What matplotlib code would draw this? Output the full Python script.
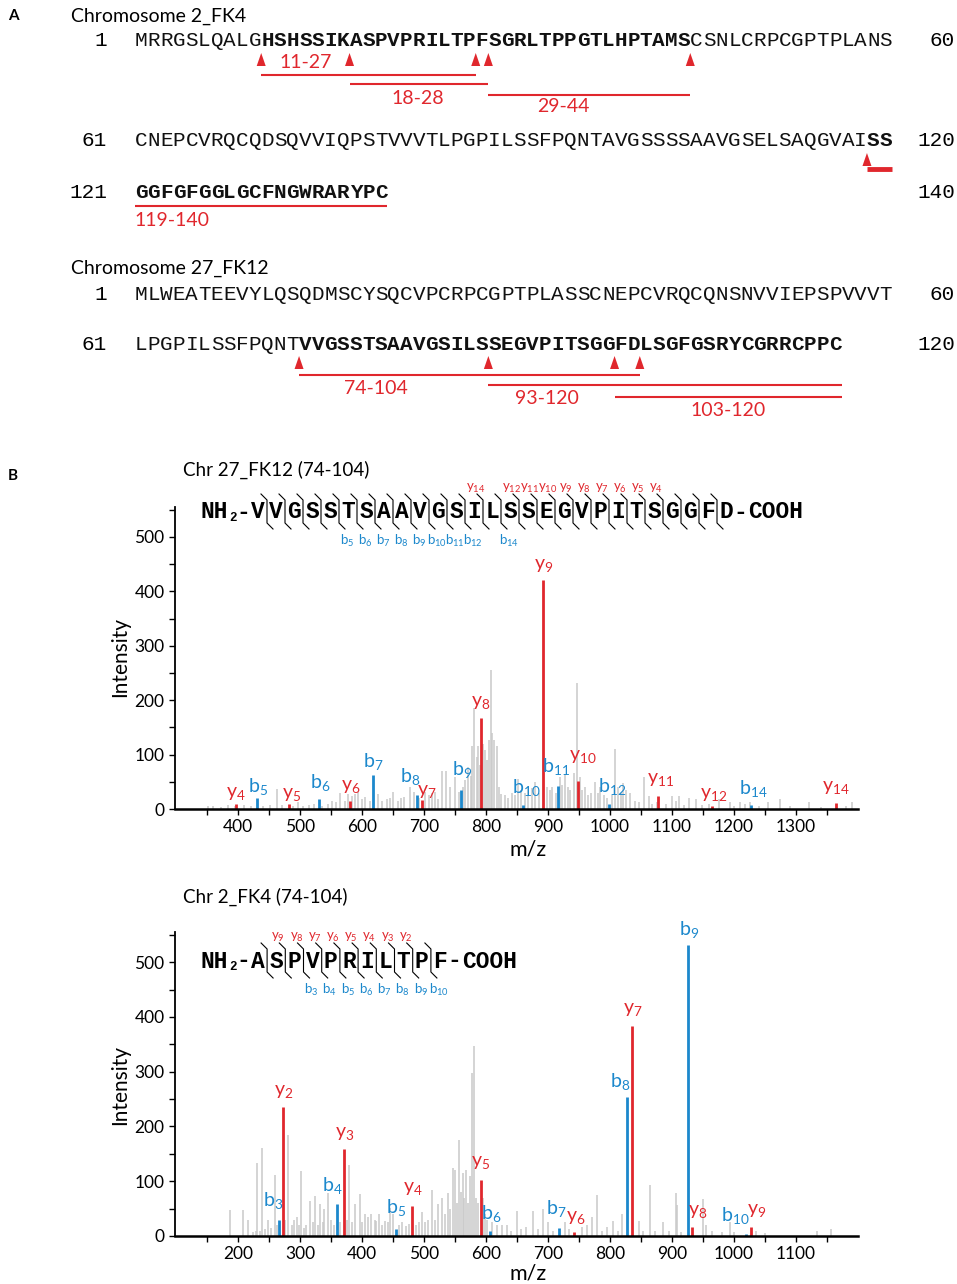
import numpy as np
import matplotlib.pyplot as plt
from matplotlib.ticker import FixedLocator

plt.rcParams['font.family'] = ['Lato', 'DejaVu Sans']
plt.rcParams['mathtext.fontset'] = 'custom'
plt.rcParams['mathtext.rm'] = 'Lato'
plt.rcParams['mathtext.it'] = 'Lato:italic'
plt.rcParams['mathtext.bf'] = 'Lato:bold'

RED = '#e0272d'
BLUE = '#1c88cc'
GREY = '#c9c9c9'
MONO = 'Liberation Mono'

# ---------------- panel A: sequences ----------------
fk4_rows = ['MRRGSLQALGHSHSSIKASPVPRILTPFSGRLTPPGTLHPTAMSCSNLCRPCGPTPLANS',
            'CNEPCVRQCQDSQVVIQPSTVVVTLPGPILSSFPQNTAVGSSSSAAVGSELSAQGVAISS',
            'GGFGFGGLGCFNGWRARYPC']
fk4_starts = [1, 61, 121]
fk4_ends = [60, 120, 140]
fk4_bold = [(11, 44), (119, 140)]
fk4_sites = [10, 17, 27, 28, 44, 118]
fk4_peptides = [(11, 27), (18, 28), (29, 44), (119, 140)]
fk4_labels = ['11-27', '18-28', '29-44', '119-140']

fk12_rows = ['MLWEATEEVYLQSQDMSCYSQCVPCRPCGPTPLASSCNEPCVRQCQNSNVVIEPSPVVVT',
             'LPGPILSSFPQNTVVGSSTSAAVGSILSSEGVPITSGGFDLSGFGSRYCGRRCPPC']
fk12_starts = [1, 61]
fk12_ends = [60, 120]
fk12_bold = [(74, 116)]
fk12_sites = [73, 88, 98, 100]
fk12_peptides = [(74, 100), (89, 116), (99, 116)]
fk12_labels = ['74-104', '93-120', '103-120']

# ---------------- panel B: spectra ----------------
pep1 = 'VVGSSTSAAVGSILSSEGVPITSGGFD'
pep1_y = [14, 12, 11, 10, 9, 8, 7, 6, 5, 4]
pep1_b = [5, 6, 7, 8, 9, 10, 11, 12, 14]

ions1 = ['y4', 'b5', 'y5', 'b6', 'y6', 'b7', 'b8', 'y7', 'b9', 'y8',
         'b10', 'y9', 'b11', 'y10', 'b12', 'y11', 'y12', 'b14', 'y14']
mz1 = [396, 430, 482, 531, 581, 617, 688, 696, 760, 792,
       860, 891, 916, 948, 999, 1077, 1165, 1228, 1364]
int1 = [9, 21, 9, 19, 14, 63, 25, 16, 35, 167,
        7, 421, 42, 52, 10, 24, 6, 7, 11]

grey1_mz = [352, 360, 372, 384, 395, 410, 420, 440, 452, 462, 470, 488, 497, 505, 515,
            522, 535, 545, 552, 558, 564, 572, 577, 584, 588, 593, 600, 605, 612, 626,
            632, 640, 645, 650, 657, 662, 668, 677, 683, 692, 702, 708, 712, 718, 722,
            728, 735, 742, 750, 756, 762, 766, 771, 775, 778, 781, 785, 787, 790, 795,
            798, 801, 804, 808, 810, 813, 817, 820, 824, 830, 836, 842, 846, 852, 856,
            862, 868, 874, 879, 885, 898, 903, 906, 912, 919, 923, 927, 932, 936, 941,
            946, 951, 955, 959, 965, 970, 976, 980, 984, 990, 995, 1003, 1008, 1013, 1017,
            1021, 1026, 1032, 1040, 1046, 1054, 1062, 1068, 1075, 1090, 1100, 1106, 1111, 1120, 1128,
            1139, 1148, 1160, 1176, 1193, 1200, 1209, 1217, 1225, 1240, 1254, 1274, 1290, 1321, 1340,
            1380, 1391]
grey1_int = [5, 6, 4, 7, 5, 8, 6, 5, 7, 36, 8, 6, 12, 5, 7,
             9, 6, 10, 14, 12, 29, 15, 27, 24, 27, 32, 18, 22, 15, 27,
             14, 18, 20, 32, 15, 20, 22, 41, 32, 20, 32, 26, 30, 32, 18,
             70, 70, 41, 59, 32, 40, 53, 78, 60, 115, 185, 96, 115, 80, 120,
             108, 90, 127, 255, 139, 127, 115, 40, 27, 25, 20, 30, 25, 56, 35,
             30, 42, 38, 50, 30, 41, 35, 41, 30, 59, 45, 65, 40, 35, 67,
             231, 59, 35, 41, 25, 30, 50, 30, 41, 25, 20, 25, 111, 41, 30,
             47, 35, 29, 15, 12, 59, 24, 10, 12, 10, 24, 15, 24, 8, 21,
             18, 8, 10, 18, 12, 6, 12, 10, 12, 6, 12, 18, 5, 12, 4,
             5, 12]

pep2 = 'ASPVPRILTPF'
pep2_y = [9, 8, 7, 6, 5, 4, 3, 2]
pep2_b = [3, 4, 5, 6, 7, 8, 9, 10]

ions2 = ['b3', 'y2', 'b4', 'y3', 'b5', 'y4', 'y5', 'b6', 'b7', 'y6',
         'b8', 'y7', 'b9', 'y8', 'b10', 'y9']
mz2 = [265, 271.5, 360, 370, 455, 480.5, 591, 606, 717.5, 741,
       827, 836, 925, 932, 1019, 1027]
int2 = [29, 235, 58, 159, 13, 55, 103, 10, 15, 7,
        253, 383, 532, 17, 3, 17]

grey2_mz = [187, 208, 216, 224, 228, 231, 235, 239, 244, 248, 253, 259, 262, 268, 276,
            281, 286, 290, 295, 298, 302, 306, 310, 316, 320, 324, 328, 332, 336, 339,
            345, 350, 355, 365, 375, 379, 384, 389, 396, 400, 405, 410, 415, 420, 423,
            427, 432, 437, 441, 445, 450, 460, 465, 470, 475, 487, 492, 496, 502, 507,
            512, 517, 523, 528, 533, 538, 542, 546, 550, 553, 556, 559, 562, 565, 568,
            571, 574, 578, 581, 584, 587, 595, 598, 602, 610, 617, 625, 633, 640, 649,
            656, 664, 675, 683, 692, 700, 708, 727, 733, 754, 762, 771, 779, 787, 795,
            804, 812, 820, 847, 853, 864, 872, 885, 895, 906, 908, 915, 950, 955, 964,
            980, 993, 1000, 1035, 1050, 1134, 1156]
grey2_int = [48, 48, 29, 8, 10, 133, 10, 161, 12, 30, 15, 112, 20, 25, 30,
             185, 20, 30, 34, 20, 118, 15, 20, 64, 25, 73, 20, 58, 25, 49,
             79, 30, 20, 25, 30, 130, 25, 58, 76, 25, 40, 35, 40, 30, 28,
             40, 20, 28, 25, 52, 40, 20, 25, 18, 22, 20, 25, 43, 25, 30,
             84, 30, 58, 70, 40, 79, 50, 124, 121, 60, 176, 80, 115, 70, 121,
             60, 109, 298, 347, 70, 60, 70, 40, 30, 25, 20, 20, 20, 10, 45,
             12, 17, 45, 12, 49, 25, 10, 25, 12, 17, 20, 35, 75, 10, 17,
             28, 10, 41, 28, 9, 93, 9, 25, 10, 79, 56, 8, 67, 20, 9,
             8, 25, 8, 9, 5, 9, 12]

# label layout for spectrum peaks: ion -> (m/z shift, label centre height)
lab1 = {'y4': (0, 29), 'b5': (2, 42), 'y5': (4, 26), 'b6': (2, 48), 'y6': (1, 42),
        'b7': (1, 88), 'b8': (-10, 60), 'y7': (8, 32), 'b9': (2, 72), 'y8': (0, 195),
        'b10': (5, 39), 'y9': (2, 447), 'b11': (-4, 78), 'y10': (8, 96), 'b12': (4, 42),
        'y11': (4, 54), 'y12': (2, 26), 'b14': (3, 37), 'y14': (0, 39)}
lab2 = {'b3': (-8, 65), 'y2': (2, 264), 'b4': (-9, 93), 'y3': (1, 187), 'b5': (-1, 52),
        'y4': (1, 87), 'y5': (0, 134), 'b6': (3, 41), 'b7': (-4, 50), 'y6': (4, 34),
        'b8': (-11, 282), 'y7': (0, 414), 'b9': (2, 560), 'y8': (9, 44), 'b10': (-17, 38),
        'y9': (10, 47)}

W, H = 957, 1284
fig = plt.figure(figsize=(W / 100, H / 100), dpi=100)


def px_rect(l, t, r, b):
    return [l / W, 1 - b / H, (r - l) / W, (b - t) / H]


def spectrum(rect, xlim, majors, minors, gmz, gint, ions, mz, inten, labs, ylab_y, xlab_y):
    ax = fig.add_axes(rect)
    ax.vlines(gmz, 0, gint, color=GREY, lw=1.1, zorder=1)
    for ion, m, h in zip(ions, mz, inten):
        c = RED if ion[0] == 'y' else BLUE
        ax.vlines(m, 0, h, color=c, lw=2, zorder=2)
        dx, ly = labs[ion]
        ax.text(m + dx, ly, '%s$_{%s}$' % (ion[0], ion[1:]), color=c,
                ha='center', va='center', fontsize=14, zorder=3)
    ax.set_xlim(*xlim)
    ax.set_ylim(0, 555)
    for s in ['top', 'right']:
        ax.spines[s].set_visible(False)
    ax.spines['left'].set_linewidth(1.3)
    ax.spines['bottom'].set_linewidth(1.8)
    ax.xaxis.set_major_locator(FixedLocator(majors))
    ax.xaxis.set_minor_locator(FixedLocator(minors))
    ax.yaxis.set_major_locator(FixedLocator(range(0, 501, 100)))
    ax.yaxis.set_minor_locator(FixedLocator(range(50, 551, 100)))
    ax.tick_params(which='both', direction='out', length=4, width=1, labelsize=12.5)
    ax.tick_params(axis='x', pad=3)
    ax.set_ylabel('Intensity', fontsize=15)
    ax.yaxis.set_label_coords(-0.066, ylab_y)
    ax.set_xlabel('m/z', fontsize=15.5)
    ax.xaxis.set_label_coords(0.517, xlab_y)
    return ax


spectrum(px_rect(175, 507, 858, 809), (298, 1400), range(400, 1301, 100),
         range(350, 1400, 100), grey1_mz, grey1_int, ions1, mz1, int1, lab1, 0.503, -0.10)
spectrum(px_rect(175, 932, 858, 1236), (98, 1200), range(200, 1101, 100),
         range(150, 1200, 100), grey2_mz, grey2_int, ions2, mz2, int2, lab2, 0.497, -0.092)

# overlay in pixel coordinates for the text panels
ov = fig.add_axes([0, 0, 1, 1])
ov.set_xlim(0, W)
ov.set_ylim(H, 0)
ov.axis('off')
ov.patch.set_alpha(0)

X0, CW = 135, 12.62
FS = 15.1


def bx(b, start):
    return X0 + (b - start + 1) * CW


def seq_block(rows, starts, ends, row_y, bold):
    for row, s, e, y in zip(rows, starts, ends, row_y):
        ov.text(107, y, str(s), family=MONO, fontsize=FS, ha='right', va='center')
        ov.text(955, y, str(e), family=MONO, fontsize=FS, ha='right', va='center')
        for i, ch in enumerate(row):
            res = s + i
            isb = any(a <= res <= z for a, z in bold)
            ov.text(X0 + (i + 0.5) * CW, y, ch, family=MONO, fontsize=FS, ha='center',
                    va='center', fontweight='bold' if isb else 'normal', color='#111111')


def row_of(b, starts, ends):
    for k, (s, e) in enumerate(zip(starts, ends)):
        if s - 1 <= b < e:
            return k
    return len(starts) - 1


def sites(site_list, starts, ends, row_y):
    for b in site_list:
        k = row_of(b, starts, ends)
        x = bx(b, starts[k])
        y = row_y[k]
        ov.fill([x - 4.5, x + 4.5, x], [y + 25, y + 25, y + 12], color=RED, lw=0)


def peptides(peps, starts, ends, row_y, dys, lws):
    for (a, z), dy, lw in zip(peps, dys, lws):
        ka, kz = row_of(a - 1, starts, ends), row_of(z - 1, starts, ends)
        for k in range(ka, kz + 1):
            x1 = bx(max(a - 1, starts[k] - 1), starts[k])
            x2 = bx(min(z, ends[k]), starts[k])
            d = dy[k - ka] if isinstance(dy, tuple) else dy
            w = lw[k - ka] if isinstance(lw, tuple) else lw
            ov.plot([x1, x2], [row_y[k] + d, row_y[k] + d], color=RED, lw=w,
                    solid_capstyle='butt')


fk4_y = [41, 141, 192]
fk12_y = [294, 344]
seq_block(fk4_rows, fk4_starts, fk4_ends, fk4_y, fk4_bold)
seq_block(fk12_rows, fk12_starts, fk12_ends, fk12_y, fk12_bold)
sites(fk4_sites, fk4_starts, fk4_ends, fk4_y)
sites(fk12_sites, fk12_starts, fk12_ends, fk12_y)
peptides(fk4_peptides, fk4_starts, fk4_ends, fk4_y, [34, 43, 54, (28, 14)],
         [1.5, 1.5, 1.5, (3.5, 1.5)])
peptides(fk12_peptides, [61, 61], [116, 116], [344, 344], [31, 41, 53], [1.5, 1.5, 1.5])

for lab, (x, y) in zip(fk4_labels + fk12_labels,
                       [(306, 62), (418, 99), (563, 107), (172, 221),
                        (376, 388), (547, 399), (728, 411)]):
    ov.text(x, y, lab, color=RED, fontsize=14, ha='center', va='center')

ov.text(8, 16, 'A', fontsize=11, fontweight='bold', va='center')
ov.text(8, 476, 'B', fontsize=11, fontweight='bold', va='center')
ov.text(71, 16, 'Chromosome 2_FK4', fontsize=14, va='center')
ov.text(71, 268, 'Chromosome 27_FK12', fontsize=14, va='center')
ov.text(183, 470, 'Chr 27_FK12 (74-104)', fontsize=13.5, va='center')
ov.text(183, 897, 'Chr 2_FK4 (74-104)', fontsize=13.5, va='center')


def fragment_map(seq, x0, pitch, yc, y_ions, b_ions):
    n = len(seq)
    kw = dict(family=MONO, fontweight='bold', fontsize=16.5, va='center')
    ov.text(x0 - 30, yc, 'NH', ha='right', **kw)
    ov.text(x0 - 29, yc + 6, '2', family=MONO, fontweight='bold', fontsize=9,
            ha='left', va='center')
    ov.text(x0 - 15, yc, '-', ha='center', **kw)
    for i, ch in enumerate(seq):
        ov.text(x0 + i * pitch, yc, ch, ha='center', **kw)
    xl = x0 + (n - 1) * pitch
    ov.text(xl + 14, yc, '-', ha='center', **kw)
    ov.text(xl + 22, yc, 'COOH', ha='left', **kw)
    for k in range(1, n):
        x = x0 + (k - 0.5) * pitch
        ov.plot([x - 6, x, x, x + 6], [yc - 18, yc - 12, yc + 11, yc + 17],
                color='black', lw=0.8)
    for m in y_ions:
        x = x0 + (n - m - 0.5) * pitch
        ov.text(x - 7, yc - 24, 'y$_{%d}$' % m, color=RED, fontsize=9.5,
                ha='center', va='center')
    for m in b_ions:
        x = x0 + (m - 0.5) * pitch
        ov.text(x + 8, yc + 29, 'b$_{%d}$' % m, color=BLUE, fontsize=9.5,
                ha='center', va='center')


fragment_map(pep1, 258, 18, 512, pep1_y, pep1_b)
fragment_map(pep2, 258, 18.2, 961, pep2_y, pep2_b)

fig.savefig('out.png', dpi=100)
